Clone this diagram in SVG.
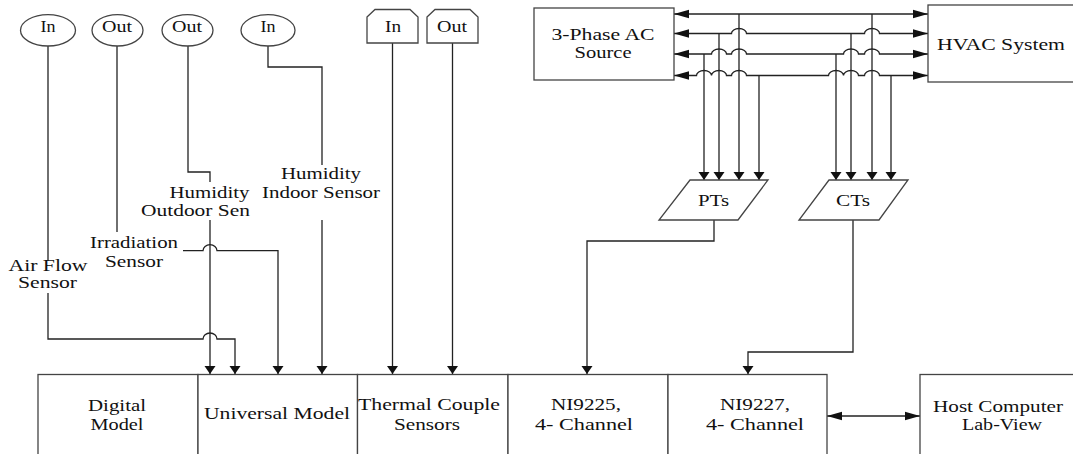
<svg xmlns="http://www.w3.org/2000/svg" width="1073" height="454" viewBox="0 0 1073 454">
<defs>
<style>
.box{fill:#fff;stroke:#444;stroke-width:1.3}
.wire{fill:none;stroke:#222;stroke-width:1.3}
.t{font-family:"Liberation Serif","Times New Roman",serif;font-size:16px;fill:#111;text-anchor:middle}
</style>
<marker id="arrV" markerUnits="userSpaceOnUse" markerWidth="10" markerHeight="12" refX="8" refY="6" orient="auto" overflow="visible">
<path d="M0,0.5 L8,6 L0,11.5 Z" fill="#111"/>
</marker>
<marker id="arrH" markerUnits="userSpaceOnUse" markerWidth="16" markerHeight="10" refX="15" refY="5" orient="auto-start-reverse" overflow="visible">
<path d="M0,0.8 L15,5 L0,9.2 Z" fill="#111"/>
</marker>
</defs>
<rect width="1073" height="454" fill="#fff"/>

<g id="connectors">
<path class="wire" d="M48,46 V261"/>
<path class="wire" d="M48,293 V339 H203 A7,6 0 0 1 217,339 H235 V374" marker-end="url(#arrV)"/>
<path class="wire" d="M117,46 V232"/>
<path class="wire" d="M183,250.7 H203 A7,6 0 0 1 217,250.7 H278 V374" marker-end="url(#arrV)"/>
<path class="wire" d="M188,46 V172 H210 V182"/>
<path class="wire" d="M210,220 V374" marker-end="url(#arrV)"/>
<path class="wire" d="M268,46 V67 H322 V165"/>
<path class="wire" d="M322,220 V374" marker-end="url(#arrV)"/>
<path class="wire" d="M392.5,43 V374" marker-end="url(#arrV)"/>
<path class="wire" d="M452.5,43 V374" marker-end="url(#arrV)"/>

<path class="wire" d="M674,14 H928" marker-start="url(#arrH)" marker-end="url(#arrH)"/>
<path class="wire" d="M674,33.5 H731.5 A7.5,5 0 0 1 746.5,33.5 H864.5 A7.5,5 0 0 1 879.5,33.5 H928" marker-start="url(#arrH)" marker-end="url(#arrH)"/>
<path class="wire" d="M674,54 H711.5 A7.5,5 0 0 1 726.5,54 H731.5 A7.5,5 0 0 1 746.5,54 H843.5 A7.5,5 0 0 1 858.5,54 H864.5 A7.5,5 0 0 1 879.5,54 H928" marker-start="url(#arrH)" marker-end="url(#arrH)"/>
<path class="wire" d="M674,75.5 H696.5 A7.5,5 0 0 1 711.5,75.5 H711.5 A7.5,5 0 0 1 726.5,75.5 H731.5 A7.5,5 0 0 1 746.5,75.5 H828.5 A7.5,5 0 0 1 843.5,75.5 H843.5 A7.5,5 0 0 1 858.5,75.5 H864.5 A7.5,5 0 0 1 879.5,75.5 H928" marker-start="url(#arrH)" marker-end="url(#arrH)"/>

<path class="wire" d="M704,54 V180" marker-end="url(#arrV)"/>
<path class="wire" d="M719,33.5 V180" marker-end="url(#arrV)"/>
<path class="wire" d="M739,14 V180" marker-end="url(#arrV)"/>
<path class="wire" d="M759,75.5 V180" marker-end="url(#arrV)"/>
<path class="wire" d="M836,54 V180" marker-end="url(#arrV)"/>
<path class="wire" d="M851,33.5 V180" marker-end="url(#arrV)"/>
<path class="wire" d="M872,14 V180" marker-end="url(#arrV)"/>
<path class="wire" d="M891,75.5 V180" marker-end="url(#arrV)"/>

<path class="wire" d="M714,220 V241 H587 V374" marker-end="url(#arrV)"/>
<path class="wire" d="M853,220 V352 H748 V374" marker-end="url(#arrV)"/>
<path class="wire" d="M827,416 H920" marker-start="url(#arrH)" marker-end="url(#arrH)"/>
</g>

<g id="in1"><ellipse class="box" cx="48" cy="30.3" rx="27.5" ry="15.7"/><text class="t" x="48" y="32" textLength="15" lengthAdjust="spacingAndGlyphs">In</text></g>
<g id="out1"><ellipse class="box" cx="117.5" cy="30.3" rx="25.5" ry="15.7"/><text class="t" x="117" y="32" textLength="30" lengthAdjust="spacingAndGlyphs">Out</text></g>
<g id="out2"><ellipse class="box" cx="187.5" cy="30.3" rx="25.5" ry="15.7"/><text class="t" x="187" y="32" textLength="30" lengthAdjust="spacingAndGlyphs">Out</text></g>
<g id="in2"><ellipse class="box" cx="268" cy="30.3" rx="27" ry="15.7"/><text class="t" x="268" y="32" textLength="15" lengthAdjust="spacingAndGlyphs">In</text></g>

<g id="tc-in"><polygon class="box" points="367,17 375,9.5 410,9.5 418,17 418,43 367,43"/><text class="t" x="393" y="32" textLength="16" lengthAdjust="spacingAndGlyphs">In</text></g>
<g id="tc-out"><polygon class="box" points="427,17 435,9.5 470,9.5 478,17 478,43 427,43"/><text class="t" x="452" y="32" textLength="30" lengthAdjust="spacingAndGlyphs">Out</text></g>

<g id="ac-source"><rect class="box" x="534" y="8" width="140" height="72"/>
<text class="t" x="603" y="40" textLength="103" lengthAdjust="spacingAndGlyphs">3-Phase AC</text>
<text class="t" x="603" y="58" textLength="57" lengthAdjust="spacingAndGlyphs">Source</text></g>
<g id="hvac"><rect class="box" x="928" y="5" width="160" height="77"/>
<text class="t" x="1001" y="50" textLength="128" lengthAdjust="spacingAndGlyphs">HVAC System</text></g>

<g id="pts"><polygon class="box" points="690,180 768,180 738,220 659,220"/><text class="t" x="713.5" y="206" textLength="31" lengthAdjust="spacingAndGlyphs">PTs</text></g>
<g id="cts"><polygon class="box" points="829,180 908,180 879,220 799,220"/><text class="t" x="853" y="206" textLength="34" lengthAdjust="spacingAndGlyphs">CTs</text></g>

<g id="lbl-hum-in"><text class="t" x="321" y="179" textLength="80" lengthAdjust="spacingAndGlyphs">Humidity</text>
<text class="t" x="321" y="198" textLength="118" lengthAdjust="spacingAndGlyphs">Indoor Sensor</text></g>
<g id="lbl-hum-out"><text class="t" x="209.5" y="198" textLength="80" lengthAdjust="spacingAndGlyphs">Humidity</text>
<text class="t" x="195.5" y="216" textLength="109" lengthAdjust="spacingAndGlyphs">Outdoor Sen</text></g>
<g id="lbl-irr"><text class="t" x="134" y="248" textLength="88" lengthAdjust="spacingAndGlyphs">Irradiation</text>
<text class="t" x="134" y="267" textLength="58" lengthAdjust="spacingAndGlyphs">Sensor</text></g>
<g id="lbl-air"><text class="t" x="48" y="271" textLength="79" lengthAdjust="spacingAndGlyphs">Air Flow</text>
<text class="t" x="47.5" y="288" textLength="59" lengthAdjust="spacingAndGlyphs">Sensor</text></g>

<g id="digital"><rect class="box" x="38" y="374.5" width="160" height="100"/>
<text class="t" x="117" y="411" textLength="58" lengthAdjust="spacingAndGlyphs">Digital</text>
<text class="t" x="117" y="430" textLength="53" lengthAdjust="spacingAndGlyphs">Model</text></g>
<g id="universal"><rect class="box" x="198" y="374.5" width="159.5" height="100"/>
<text class="t" x="277" y="419" textLength="146" lengthAdjust="spacingAndGlyphs">Universal Model</text></g>
<g id="thermal"><rect class="box" x="357.5" y="374.5" width="150.5" height="100"/>
<text class="t" x="429" y="410" textLength="142" lengthAdjust="spacingAndGlyphs">Thermal Couple</text>
<text class="t" x="427" y="430" textLength="66" lengthAdjust="spacingAndGlyphs">Sensors</text></g>
<g id="ni9225"><rect class="box" x="508" y="374.5" width="160" height="100"/>
<text class="t" x="586" y="410" textLength="70" lengthAdjust="spacingAndGlyphs">NI9225,</text>
<text class="t" x="584" y="430" textLength="98" lengthAdjust="spacingAndGlyphs">4- Channel</text></g>
<g id="ni9227"><rect class="box" x="668" y="374.5" width="159" height="100"/>
<text class="t" x="755" y="410" textLength="70" lengthAdjust="spacingAndGlyphs">NI9227,</text>
<text class="t" x="755" y="430" textLength="98" lengthAdjust="spacingAndGlyphs">4- Channel</text></g>
<g id="host"><rect class="box" x="920" y="374.5" width="170" height="100"/>
<text class="t" x="998" y="412" textLength="130" lengthAdjust="spacingAndGlyphs">Host Computer</text>
<text class="t" x="1002" y="430" textLength="80" lengthAdjust="spacingAndGlyphs">Lab-View</text></g>
</svg>
